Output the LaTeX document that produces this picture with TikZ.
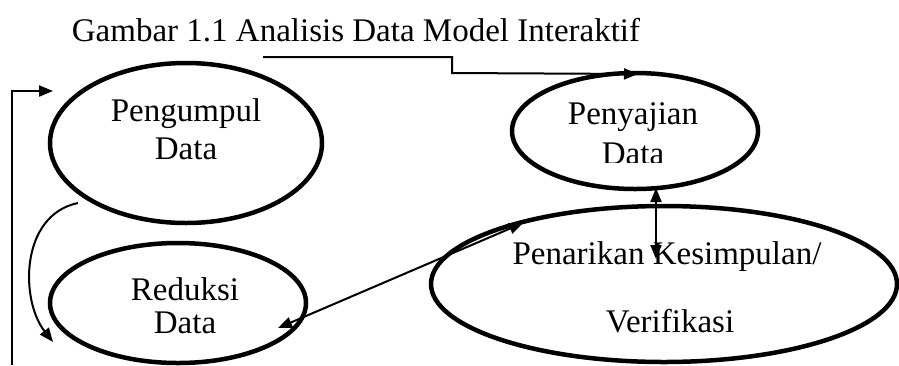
\documentclass[tikz,border=0pt]{standalone}
\usepackage{fontspec}
\setmainfont{Liberation Serif}
\usetikzlibrary{shapes.geometric,arrows.meta}
\tikzset{
  bubble/.style={draw, ellipse, line width=4.5pt, inner sep=0pt},
  label/.style={font=\fontsize{33}{36}\selectfont, inner sep=0pt},
  link/.style={line width=2pt, -{Triangle[length=14pt,width=11pt]}},
  both/.style={line width=2pt, {Triangle[length=14pt,width=11pt]}-{Triangle[length=14pt,width=11pt]}}
}
\begin{document}
\begin{tikzpicture}[x=1pt,y=-1pt]
\useasboundingbox (0,0) rectangle (899,365);

% title
\node[label] (title) at (356,30) {Gambar 1.1 Analisis Data Model Interaktif};

% the four stages
\node[bubble, minimum width=272pt, minimum height=160pt] (kumpul) at (186,143) {};
\node[bubble, minimum width=256pt, minimum height=120pt] (reduksi) at (178,303) {};
\node[bubble, minimum width=246pt, minimum height=116pt] (saji) at (635,131) {};
\node[bubble, minimum width=466pt, minimum height=156pt] (tarik) at (664,284) {};

\node[label] (t1a) at (186,114) {Pengumpul};
\node[label] (t1b) at (186,149) {Data};
\node[label] (t2a) at (185,289) {Reduksi};
\node[label] (t2b) at (185,323) {Data};
\node[label] (t3a) at (633,117) {Penyajian};
\begin{scope}
  \clip (560,135) rectangle (710,162);
  \node[label] (t3b) at (633,154) {Data};
\end{scope}
\node[label] (t4a) at (667,257) {Penarikan Kesimpulan/};
\node[label] (t4b) at (670,321) {Verifikasi};

% connector end points
\coordinate (loopfoot) at (12,365);
\coordinate (loophead) at (53,91);
\coordinate (titlefoot) at (263,57);
\coordinate (sajihead) at (638,74);
\coordinate (kumpulfoot) at (78,203);
\coordinate (reduksihead) at (53,342);
\coordinate (reduksiend) at (278,328);
\coordinate (tarikend) at (523,223);
\coordinate (sajibottom) at (656,188);
\coordinate (tariktop) at (656,259);

% connectors
\draw[link] (loopfoot) |- (loophead);
\draw[link] (titlefoot) -- (452,57) -- (452,73) -- (sajihead);
\draw[link] (kumpulfoot) .. controls (20,215) and (20,300) .. (reduksihead);
\draw[both] (reduksiend) -- (tarikend);
\draw[both] (sajibottom) -- (tariktop);
\end{tikzpicture}
\end{document}
